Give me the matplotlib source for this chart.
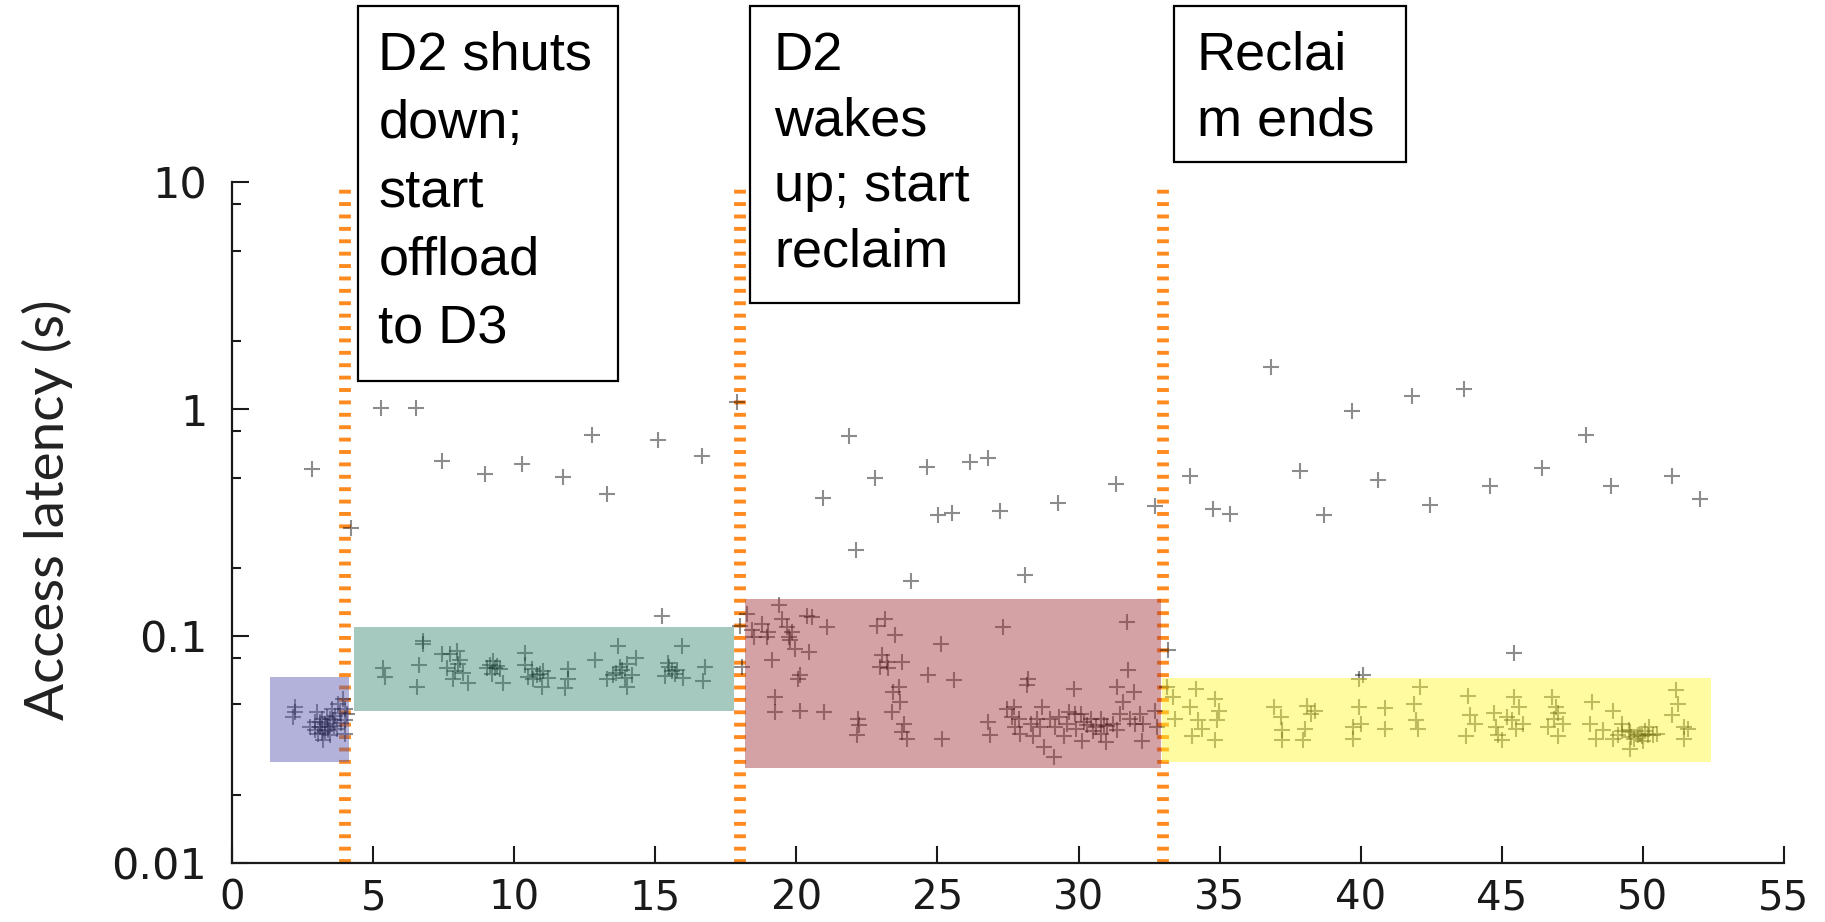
import numpy as np
import matplotlib.pyplot as plt
from matplotlib.patches import Rectangle
from matplotlib.ticker import LogLocator, NullFormatter

# times (s) of the three events (dashed orange markers)
events = [4.0, 18.0, 33.0]

# phase boxes: start/end time and latency band
phase_x0 = [1.34, 4.32, 18.18, 32.96]
phase_x1 = [4.14, 17.79, 32.93, 52.43]
phase_lo = [0.0280, 0.0466, 0.0261, 0.0280]
phase_hi = [0.0658, 0.1093, 0.145, 0.0656]
phase_colors = ['#5656b1', '#398771', '#a03035', '#fff82c']

# slow accesses (outliers)
outliers = [(2.82, 0.547), (4.22, 0.299), (5.29, 1.01), (6.50, 1.01), (7.44, 0.591),
            (8.97, 0.520), (10.26, 0.576), (11.73, 0.503), (12.74, 0.773), (13.28, 0.425),
            (15.11, 0.730), (16.64, 0.62), (17.91, 1.077), (15.22, 0.123),
            (20.94, 0.406), (21.86, 0.760), (22.10, 0.240), (22.78, 0.50), (24.07, 0.175),
            (24.63, 0.557), (25.02, 0.341), (25.53, 0.347), (26.16, 0.583), (26.79, 0.610),
            (27.21, 0.355), (28.09, 0.185), (29.28, 0.386), (31.34, 0.47), (32.70, 0.373),
            (33.18, 0.087), (33.94, 0.51), (34.77, 0.362), (35.36, 0.344), (36.83, 1.54),
            (37.84, 0.534), (38.70, 0.343), (39.69, 0.98), (40.1, 0.0676), (40.62, 0.486),
            (41.83, 1.14), (42.45, 0.38), (43.67, 1.225), (44.60, 0.457), (45.42, 0.084),
            (46.44, 0.551), (47.98, 0.768), (48.89, 0.461), (51.04, 0.506), (52.03, 0.40)]

# normal operation before D2 shuts down
blue_pts = [(2.23, 0.0486), (2.23, 0.0462), (2.17, 0.044), (2.99, 0.0462), (2.93, 0.0418),
            (3.11, 0.0397), (3.05, 0.0371), (3.23, 0.0347), (3.35, 0.044), (3.41, 0.0397),
            (3.59, 0.0426), (3.53, 0.0478), (3.76, 0.050), (3.82, 0.046), (3.94, 0.0526),
            (4.0, 0.0478), (4.0, 0.0426), (4.0, 0.0371), (2.76, 0.0397), (3.17, 0.0433),
            (3.70, 0.039), (3.47, 0.0365), (3.29, 0.038), (2.93, 0.0386), (4.06, 0.0455),
            (3.1, 0.042), (3.3, 0.041), (3.45, 0.043), (3.6, 0.040), (3.2, 0.0375),
            (3.4, 0.0385), (3.65, 0.0445), (3.85, 0.0415)]

# offloaded to D3
green_pts = [(5.36, 0.0726), (5.42, 0.0659), (6.75, 0.0948), (6.75, 0.092), (6.63, 0.0743),
             (6.56, 0.0597), (7.72, 0.0830), (7.60, 0.0726), (7.84, 0.0645), (8.08, 0.0788),
             (8.19, 0.0689), (8.37, 0.0622), (7.96, 0.0859), (7.43, 0.083), (9.14, 0.0743),
             (9.31, 0.0726), (9.02, 0.0726), (9.49, 0.0713), (9.61, 0.0622), (9.26, 0.0775),
             (10.38, 0.0844), (10.38, 0.0743), (10.62, 0.0713), (10.79, 0.0677), (11.03, 0.070),
             (10.68, 0.0645), (10.98, 0.0597), (11.21, 0.0656), (11.91, 0.0713), (11.91, 0.0645),
             (11.80, 0.0591), (12.86, 0.0788), (13.69, 0.0903), (13.51, 0.0677), (13.75, 0.073),
             (13.92, 0.0656), (13.98, 0.0597), (14.33, 0.0802), (14.16, 0.0677), (13.28, 0.0645),
             (15.46, 0.0762), (15.58, 0.070), (15.93, 0.0903), (15.99, 0.0656), (15.34, 0.0666),
             (16.76, 0.073), (16.70, 0.0634), (15.76, 0.071), (8.0, 0.075), (9.2, 0.068),
             (10.5, 0.066), (13.8, 0.071), (15.7, 0.068), (7.9, 0.070), (9.4, 0.074),
             (10.9, 0.068), (13.6, 0.069), (14.0, 0.075), (15.5, 0.073)]

# reclaim in progress
red_pts = [(18.24, 0.1256), (18.0, 0.111), (18.06, 0.0729), (18.42, 0.106), (18.48, 0.099),
           (18.77, 0.1135), (19.01, 0.104), (18.95, 0.099), (19.39, 0.1366), (19.48, 0.119),
           (19.66, 0.1096), (19.84, 0.104), (19.72, 0.099), (19.96, 0.0879), (19.78, 0.0957),
           (20.37, 0.123), (20.55, 0.121), (21.08, 0.1096), (20.43, 0.085), (19.13, 0.0781),
           (20.13, 0.0671), (20.07, 0.065), (19.25, 0.0538), (19.25, 0.0462), (20.13, 0.047),
           (20.98, 0.0462), (22.85, 0.111), (23.14, 0.119), (23.50, 0.1007), (23.02, 0.0822),
           (23.20, 0.0768), (23.73, 0.0768), (22.97, 0.0729), (23.26, 0.072), (23.62, 0.0596),
           (23.44, 0.0566), (23.67, 0.0511), (23.38, 0.0462), (22.19, 0.0433), (22.23, 0.0404),
           (22.14, 0.0365), (23.80, 0.0411), (23.74, 0.0377), (23.92, 0.0353), (25.15, 0.0351),
           (24.68, 0.0671), (25.58, 0.0638), (25.12, 0.0919), (27.31, 0.110), (28.22, 0.0649),
           (28.16, 0.0606), (26.80, 0.0418), (26.86, 0.0365), (27.46, 0.0479), (27.63, 0.044),
           (27.75, 0.0397), (27.93, 0.0371), (28.69, 0.0488), (28.52, 0.0433), (28.64, 0.0397),
           (28.40, 0.0363), (29.12, 0.0292), (28.76, 0.0324), (29.83, 0.0586), (29.66, 0.0462),
           (30.07, 0.0455), (30.43, 0.0433), (30.31, 0.0404), (30.61, 0.0397), (30.78, 0.0371),
           (30.96, 0.0341), (30.13, 0.0346), (29.48, 0.0363), (31.71, 0.1153), (31.77, 0.0706),
           (31.35, 0.0596), (31.95, 0.0566), (31.59, 0.0511), (31.47, 0.0455), (31.83, 0.0433),
           (32.18, 0.0455), (32.01, 0.0411), (32.30, 0.0411), (31.35, 0.0384), (32.24, 0.0346),
           (32.72, 0.047), (32.78, 0.0397), (31.23, 0.0411), (29.30, 0.044), (29.18, 0.0397),
           (27.70, 0.0488), (29.89, 0.0455), (30.78, 0.0433), (30.90, 0.0404), (27.9, 0.043),
           (28.3, 0.041), (29.0, 0.043), (29.6, 0.041), (30.2, 0.042), (30.5, 0.038),
           (31.0, 0.040), (29.9, 0.039)]

# after reclaim
yellow_pts = [(33.15, 0.0596), (33.35, 0.0538), (33.42, 0.0433), (34.16, 0.0586), (33.95, 0.0486),
              (34.22, 0.0425), (34.36, 0.0391), (34.02, 0.0363), (34.85, 0.053), (34.98, 0.047),
              (34.92, 0.0425), (34.85, 0.0347), (36.94, 0.0486), (37.16, 0.044), (37.23, 0.0384),
              (37.23, 0.0347), (38.10, 0.049), (38.24, 0.0455), (38.03, 0.039), (37.96, 0.0347),
              (38.37, 0.047), (39.93, 0.0649), (39.93, 0.0486), (39.73, 0.0397), (39.73, 0.0352),
              (40.86, 0.048), (40.86, 0.039), (40.0, 0.041), (42.10, 0.0596), (41.89, 0.0502),
              (41.96, 0.0425), (42.03, 0.039), (43.79, 0.0547), (43.86, 0.0447), (43.72, 0.0363),
              (44.06, 0.041), (44.74, 0.046), (44.81, 0.0397), (44.88, 0.0368), (45.42, 0.0538),
              (45.35, 0.0425), (45.62, 0.0486), (45.76, 0.041), (45.02, 0.0347), (46.78, 0.0538),
              (46.91, 0.0486), (46.85, 0.0433), (46.64, 0.0397), (47.19, 0.041), (46.98, 0.0363),
              (48.20, 0.0511), (48.13, 0.041), (48.34, 0.0352), (48.93, 0.047), (49.27, 0.041),
              (49.54, 0.0377), (49.82, 0.0368), (50.09, 0.038), (49.13, 0.0368), (50.37, 0.0368),
              (49.68, 0.0352), (49.54, 0.0318), (50.23, 0.0397), (48.93, 0.0352), (51.19, 0.058),
              (51.26, 0.0502), (51.05, 0.0447), (51.46, 0.0397), (51.60, 0.039), (51.46, 0.0352),
              (49.27, 0.038), (49.96, 0.0362), (48.58, 0.0384), (49.6, 0.036), (49.9, 0.037),
              (50.2, 0.0365), (49.5, 0.0385), (50.0, 0.0345), (50.5, 0.037), (45.2, 0.044),
              (45.5, 0.039), (47.0, 0.046)]

notes = ["D2 shuts\ndown;\nstart\noffload\nto D3",
         "D2\nwakes\nup; start\nreclaim",
         "Reclai\nm ends"]

W, H = 1825, 922
fig = plt.figure(figsize=(W / 100, H / 100), dpi=100)
ax = fig.add_axes([232.2 / W, 1 - 863 / H, (1783.8 - 232.2) / W, (863 - 182.3) / H])

# dashed event lines
for t in events:
    ln = ax.axvline(t, color='#ff8a1f', lw=8.5, zorder=0.5)
    ln.set_dashes((0.33, 0.72))
    ln.set_dash_capstyle('butt')

# all the accesses
pts = np.array(outliers + blue_pts + green_pts + red_pts + yellow_pts)
ax.plot(pts[:, 0], pts[:, 1], '+', color='black', alpha=0.45, ms=11.5, mew=1.5,
        ls='none', zorder=1)

# shaded phases on top
for x0, x1, lo, hi, c in zip(phase_x0, phase_x1, phase_lo, phase_hi, phase_colors):
    ax.add_patch(Rectangle((x0, lo), x1 - x0, hi - lo, facecolor=c, edgecolor='none',
                           alpha=0.45, zorder=2))

ax.set_yscale('log')
ax.set_xlim(0, 55)
ax.set_ylim(0.01, 10)
ax.set_xticks(np.arange(0, 56, 5))
ax.set_yticks([0.01, 0.1, 1, 10])
ax.set_yticklabels(['0.01', '0.1', '1', '10'])
ax.yaxis.set_minor_locator(LogLocator(base=10, subs=[2, 5, 8]))
ax.yaxis.set_minor_formatter(NullFormatter())

for s in ['top', 'right']:
    ax.spines[s].set_visible(False)
for s in ['left', 'bottom']:
    ax.spines[s].set_linewidth(1.6)
    ax.spines[s].set_color('#1a1a1a')

ax.tick_params(axis='both', which='major', direction='in', length=12, width=1.5,
               color='#1a1a1a', labelcolor='#1a1a1a')
ax.tick_params(axis='y', which='minor', direction='in', length=6.5, width=1.5, color='#1a1a1a')
ax.tick_params(axis='y', which='major', pad=18, labelsize=31)
ax.tick_params(axis='x', which='major', pad=11, labelsize=29)

fig.text(47 / W, 1 - 509.5 / H, 'Access latency (s)', rotation=90, ha='center', va='center',
         fontsize=39.5, family='Lato', color='#222222')

# annotation boxes
boxes = [(357.5, 617.5, 6, 380.7), (750, 1019, 6, 303.5), (1174, 1406, 6.5, 162)]
text_pos = [(378.4, 31), (774, 31), (1196.7, 31)]
spacing = [1.47, 1.40, 1.40]
for (bx0, bx1, by0, by1), (tx, ty), note, ls in zip(boxes, text_pos, notes, spacing):
    fig.add_artist(Rectangle((bx0 / W, 1 - by1 / H), (bx1 - bx0) / W, (by1 - by0) / H,
                             transform=fig.transFigure, fill=False, lw=1.6,
                             edgecolor='black'))
    fig.text(tx / W, 1 - ty / H, note, ha='left', va='top', fontsize=39,
             family='Liberation Sans', linespacing=ls)

fig.savefig('out.png', dpi=100)
